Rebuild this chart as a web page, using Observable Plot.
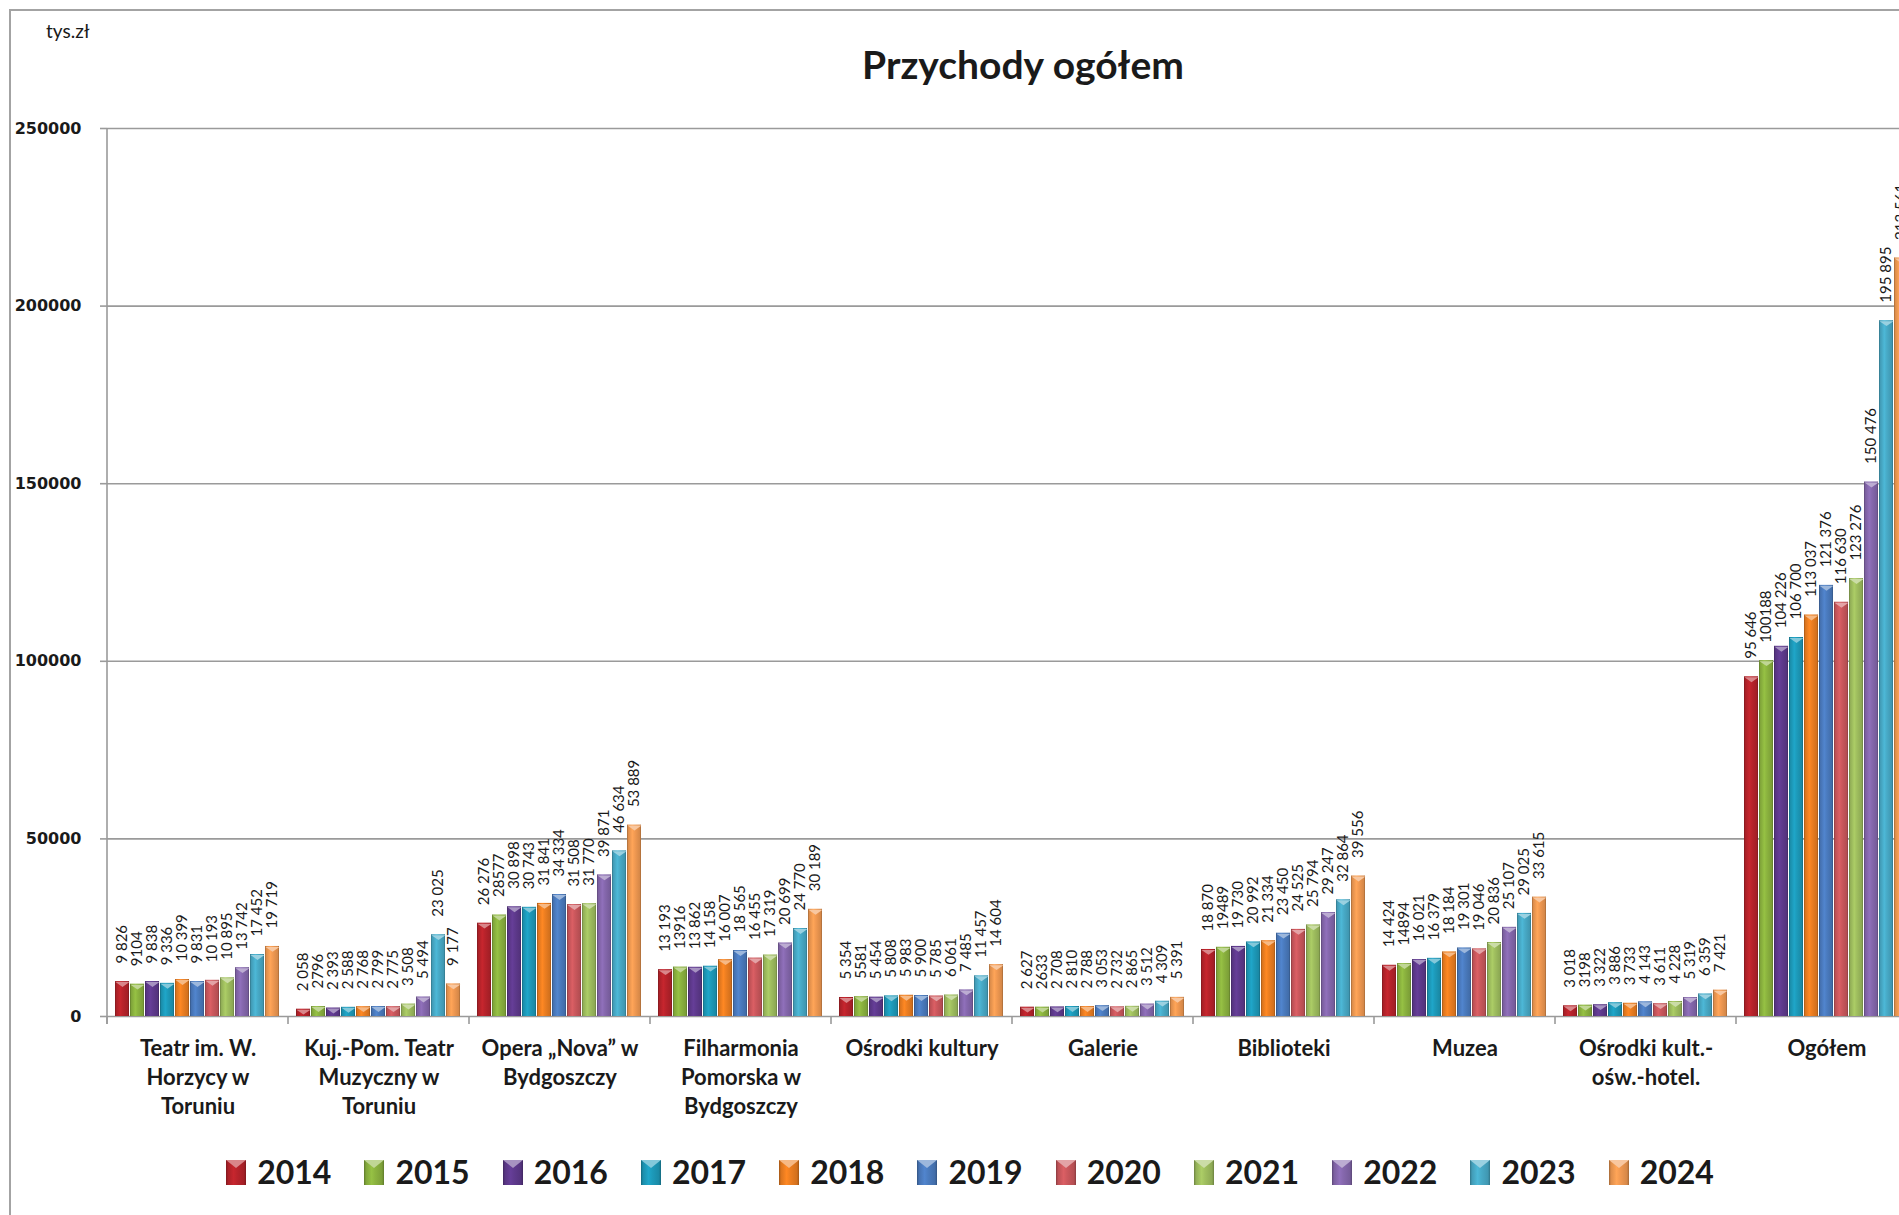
<!DOCTYPE html>
<html><head><meta charset="utf-8">
<script src="https://cdn.jsdelivr.net/npm/d3@7"></script>
<script src="https://cdn.jsdelivr.net/npm/@observablehq/plot@0.6"></script>
<style>
html,body{margin:0;padding:0;overflow:hidden;background:#fff;}
#wrap{position:relative;width:1899px;height:1215px;overflow:hidden;font-family:Lato, sans-serif;color:#1a1a1a;}
#frame{position:absolute;left:9px;top:9px;width:2000px;height:1300px;border-left:2px solid #a3a3a3;border-top:2px solid #a3a3a3;}
#unit{position:absolute;left:46px;top:19px;font-size:19px;}
#title{position:absolute;left:0;width:2046px;text-align:center;top:41px;font-size:39px;font-weight:700;}
#chart{position:absolute;left:0;top:0;width:1940px;}
#chart svg{max-width:none !important;}
#legend{position:absolute;top:1152px;left:0;width:1940px;display:flex;justify-content:center;gap:33px;align-items:center;}
.item{display:flex;align-items:center;gap:11px;font-size:32px;font-weight:700;line-height:40px;}
</style>
</head><body>
<div id="wrap">
  <div id="frame"></div>
  <div id="unit">tys.zł</div>
  <div id="title">Przychody ogółem</div>
  <div id="chart"></div>
  <div id="legend"></div>
</div>
<script>
const categories = ["Teatr", "KujPom", "Opera", "Filharmonia", "OsrodkiKultury", "Galerie", "Biblioteki", "Muzea", "OsrodkiHotel", "Ogolem"];
const categoryLabels = [
  "Teatr im. W.\nHorzycy w\nToruniu",
  "Kuj.-Pom. Teatr\nMuzyczny w\nToruniu",
  "Opera „Nova” w\nBydgoszczy",
  "Filharmonia\nPomorska w\nBydgoszczy",
  "Ośrodki kultury",
  "Galerie",
  "Biblioteki",
  "Muzea",
  "Ośrodki kult.-\nośw.-hotel.",
  "Ogółem"
];
const years = ["2014","2015","2016","2017","2018","2019","2020","2021","2022","2023","2024"];
const v2014 = [9826, 2058, 26276, 13193, 5354, 2627, 18870, 14424, 3018, 95646];
const v2015 = [9104, 2796, 28577, 13916, 5581, 2633, 19489, 14894, 3198, 100188];
const v2016 = [9838, 2393, 30898, 13862, 5454, 2708, 19730, 16021, 3322, 104226];
const v2017 = [9336, 2588, 30743, 14158, 5808, 2810, 20992, 16379, 3886, 106700];
const v2018 = [10399, 2768, 31841, 16007, 5983, 2788, 21334, 18184, 3733, 113037];
const v2019 = [9831, 2799, 34334, 18565, 5900, 3053, 23450, 19301, 4143, 121376];
const v2020 = [10193, 2775, 31508, 16455, 5785, 2732, 24525, 19046, 3611, 116630];
const v2021 = [10895, 3508, 31770, 17319, 6061, 2865, 25794, 20836, 4228, 123276];
const v2022 = [13742, 5494, 39871, 20699, 7485, 3512, 29247, 25107, 5319, 150476];
const v2023 = [17452, 23025, 46634, 24770, 11457, 4309, 32864, 29025, 6359, 195895];
const v2024 = [19719, 9177, 53889, 30189, 14604, 5391, 39556, 33615, 7421, 213561];
const seriesValues = [v2014, v2015, v2016, v2017, v2018, v2019, v2020, v2021, v2022, v2023, v2024];
const colors = ["#b9232b", "#8cb43f", "#5f3a8e", "#1d9bbb", "#ee7f21", "#4b7cc0", "#cc585d", "#a0bf5f", "#8668ae", "#48abc8", "#f29a52"];
const yTicks = [0, 50000, 100000, 150000, 200000, 250000];
const plainLabelYears = ["2015"];

const data = years.flatMap((yr, i) => categories.map((c, j) => ({year: yr, cat: c, value: seriesValues[i][j]})));
const fmtLabel = (v, yr) => plainLabelYears.includes(yr) ? String(v) : d3.format(",")(v).replace(/,/g, " ");
const capColor = yr => d3.interpolateRgb(colors[years.indexOf(yr)], "#ffffff")(0.45);

const capSymbol = {
  draw(ctx, size) {
    const r = Math.sqrt(size / Math.PI);
    ctx.moveTo(-r, 0);
    ctx.lineTo(r, 0);
    ctx.lineTo(0, r * 0.7);
    ctx.closePath();
  }
};

const W = 1930, mL = 103, mT = 128, plotH = 888, mB = 115;
const gridColor = "#9a9a9a";

const plot = Plot.plot({
  width: W, height: mT + plotH + mB,
  marginLeft: mL, marginRight: W - 1920, marginTop: mT, marginBottom: mB,
  style: {fontFamily: "Lato, sans-serif", color: "#1a1a1a", background: "transparent", overflow: "visible", maxWidth: "none"},
  fx: {domain: categories, padding: 0, axis: null},
  x: {domain: years, paddingInner: 0.04, paddingOuter: 0.37, axis: null},
  y: {domain: [0, 250000], axis: null},
  color: {type: "identity"},
  marks: [
    Plot.gridY(yTicks.slice(1), {stroke: gridColor, strokeOpacity: 1, strokeWidth: 1.6}),
    Plot.ruleY([0], {stroke: gridColor, strokeWidth: 1.6}),
    Plot.axisY(yTicks, {label: null, tickSize: 7, tickPadding: 19, tickFormat: d => String(d), fontFamily: "DejaVu Sans", fontWeight: "bold", fontSize: 16, stroke: gridColor, fill: "#1a1a1a", strokeWidth: 1.6}),
    Plot.barY(data, {fx: "cat", x: "year", y: "value", fill: d => `url(#bg${d.year})`}),
    Plot.dot(data, {fx: "cat", x: "year", y: "value", symbol: capSymbol, r: 7, fill: d => capColor(d.year), stroke: "none", dy: 0.5}),
    Plot.text(data, {fx: "cat", x: "year", y: "value", text: d => fmtLabel(d.value, d.year), rotate: -90, textAnchor: "start", dy: -18, fontSize: 15, fill: "#1a1a1a"}),
    Plot.text(categories, {fx: d => d, text: (d, i) => categoryLabels[i], frameAnchor: "bottom", lineAnchor: "top", dy: 19, fontSize: 22, fontWeight: "bold", lineHeight: 1.32, fill: "#1a1a1a"})
  ]
});

function addGradient(defs, id, c) {
  const base = d3.color(c);
  const g = defs.append("linearGradient").attr("id", id).attr("x1", 0).attr("x2", 1).attr("y1", 0).attr("y2", 0);
  [[0, base.darker(1.1)], [0.1, base.darker(0.25)], [0.38, base.brighter(0.2)], [0.55, base], [0.9, base.darker(0.35)], [1, base.darker(1.1)]]
    .forEach(([o, col]) => g.append("stop").attr("offset", o).attr("stop-color", col.formatHex()));
}

const svg = d3.select(plot);
svg.style("max-width", "none");
const defs = svg.insert("defs", ":first-child");
years.forEach((yr, i) => addGradient(defs, "bg" + yr, colors[i]));

// group separators and left axis line via the plot's own scales
const fx = plot.scale("fx"), ys = plot.scale("y");
const y0 = ys.apply(0), yTop = ys.apply(250000);
const sep = svg.append("g").attr("stroke", gridColor).attr("stroke-width", 1.6);
categories.forEach(c => {
  const x = fx.apply(c);
  sep.append("line").attr("x1", x).attr("x2", x).attr("y1", y0).attr("y2", y0 + 8);
});
const xEnd = fx.apply(categories[categories.length - 1]) + fx.bandwidth;
sep.append("line").attr("x1", xEnd).attr("x2", xEnd).attr("y1", y0).attr("y2", y0 + 8);
const xl = fx.apply(categories[0]);
sep.append("line").attr("x1", xl).attr("x2", xl).attr("y1", yTop).attr("y2", y0 + 8);

document.getElementById("chart").appendChild(plot);

// legend
const legend = d3.select("#legend");
years.forEach((yr, i) => {
  const item = legend.append("div").attr("class", "item");
  const s = item.append("svg").attr("width", 20).attr("height", 25);
  addGradient(s.append("defs"), "lg" + yr, colors[i]);
  s.append("rect").attr("width", 20).attr("height", 25).attr("fill", `url(#lg${yr})`);
  s.append("path").attr("d", "M0,0L20,0L10,8Z").attr("fill", capColor(yr));
  item.append("span").text(yr);
});
</script>
</body></html>
